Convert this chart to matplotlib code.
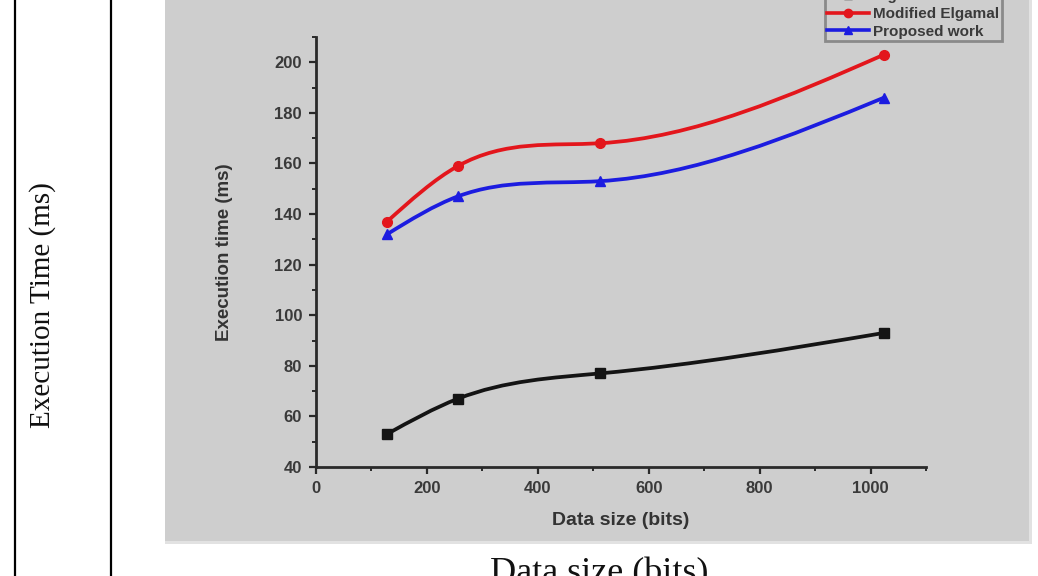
import numpy as np
import matplotlib
matplotlib.use('Agg')
import matplotlib.pyplot as plt
from matplotlib.path import Path
from matplotlib.patches import PathPatch, Rectangle
from matplotlib.lines import Line2D
from matplotlib.ticker import MultipleLocator

# data
data_size = [128, 256, 512, 1024]
elgamal = [53, 67, 77, 93]
modified_elgamal = [137, 159, 168, 203]
proposed_work = [132, 147, 153, 186]

series_names = ['Elgamal', 'Modified Elgamal', 'Proposed work']
series_colors = ['#141414', '#e3161c', '#1c1ce0']
series_markers = ['s', 'o', '^']

x_ticks = [0, 200, 400, 600, 800, 1000]
y_ticks = [40, 60, 80, 100, 120, 140, 160, 180, 200]

W, H = 1038, 576


def spline_path(x, y):
    '''natural cubic spline through the points, as bezier segments'''
    x = np.asarray(x, float)
    y = np.asarray(y, float)
    n = len(x)
    h = np.diff(x)
    d = np.diff(y) / h
    A = np.zeros((n, n))
    r = np.zeros(n)
    A[0, 0] = A[-1, -1] = 1
    for i in range(1, n - 1):
        A[i, i - 1] = h[i - 1]
        A[i, i] = 2 * (h[i - 1] + h[i])
        A[i, i + 1] = h[i]
        r[i] = 6 * (d[i] - d[i - 1])
    M = np.linalg.solve(A, r)
    m = np.empty(n)
    m[:-1] = d - h * (2 * M[:-1] + M[1:]) / 6
    m[-1] = d[-1] + h[-1] * (M[-2] + 2 * M[-1]) / 6
    verts = [(x[0], y[0])]
    codes = [Path.MOVETO]
    for i in range(n - 1):
        verts += [(x[i] + h[i] / 3, y[i] + m[i] * h[i] / 3),
                  (x[i + 1] - h[i] / 3, y[i + 1] - m[i + 1] * h[i] / 3),
                  (x[i + 1], y[i + 1])]
        codes += [Path.CURVE4] * 3
    return Path(verts, codes)


fig = plt.figure(figsize=(W / 100, H / 100), dpi=100)
fig.patch.set_facecolor('white')

# page furniture: table borders and the grey picture
for px in [15, 111]:
    fig.add_artist(Line2D([px / W, px / W], [0, 1], transform=fig.transFigure,
                          color='black', lw=1.6, zorder=0))
fig.add_artist(Rectangle((165 / W, (H - 544) / H), (1032 - 165) / W, 544 / H,
                         transform=fig.transFigure, facecolor='#e2e2e2', edgecolor='none',
                         zorder=0))
fig.add_artist(Rectangle((165 / W, (H - 541) / H), (1029 - 165) / W, 541 / H,
                         transform=fig.transFigure, facecolor='#cecece', edgecolor='none',
                         zorder=0))

fig.text(43 / W, (H - 305) / H, 'Execution Time (ms)', rotation=90, ha='center', va='center',
         fontsize=21, family='Liberation Serif', color='#111111')
fig.text(599 / W, (H - 582) / H, 'Data size (bits)', ha='center', va='baseline',
         fontsize=26, family='Liberation Serif', color='#111111')

# inner chart
ax = fig.add_axes([316 / W, (H - 467) / H, 610 / W, 430 / H])
ax.set_zorder(5)
ax.set_facecolor('none')
ax.set_xlim(0, 1100)
ax.set_ylim(40, 210)

series = [elgamal, modified_elgamal, proposed_work]
handles = []
for vals, name, col, mk in zip(series, series_names, series_colors, series_markers):
    ax.add_patch(PathPatch(spline_path(data_size, vals), facecolor='none', edgecolor=col,
                           lw=2.7, capstyle='round', joinstyle='round'))
    ax.plot(data_size, vals, linestyle='none', color=col, marker=mk, markersize=7,
            label=name)
    handles.append(Line2D([], [], color=col, lw=2.6, marker=mk, markersize=6))

for side in ['top', 'right']:
    ax.spines[side].set_visible(False)
for side in ['left', 'bottom']:
    ax.spines[side].set_linewidth(2)
    ax.spines[side].set_color('#2a2a2a')

ax.set_xticks(x_ticks)
ax.set_yticks(y_ticks)
ax.xaxis.set_minor_locator(MultipleLocator(100))
ax.yaxis.set_minor_locator(MultipleLocator(10))
ax.tick_params(which='major', direction='out', length=5, width=1.6, color='#2a2a2a',
               labelsize=12, labelcolor='#3a3a3a', pad=5)
ax.tick_params(which='minor', direction='out', length=3, width=1.4, color='#2a2a2a')
for lab in ax.get_xticklabels() + ax.get_yticklabels():
    lab.set_family('Liberation Sans')
    lab.set_fontweight('bold')

ax.set_xlabel('Data size (bits)', fontsize=14, family='Liberation Sans', fontweight='bold',
              color='#333333')
ax.xaxis.set_label_coords(0.5, (467 - 512) / 430)
ax.set_ylabel('Execution time (ms)', fontsize=13.5, family='Liberation Sans', fontweight='bold',
              color='#333333')
ax.yaxis.set_label_coords((233 - 316) / 610, 0.5)

leg = fig.legend(handles, series_names, loc='lower left',
                 bbox_to_anchor=(825 / W, (H - 41) / H), borderaxespad=0,
                 prop={'family': 'Liberation Sans', 'size': 11, 'weight': 'bold'},
                 labelspacing=0.25, handlelength=2.7, handletextpad=0.3, borderpad=0.15,
                 fancybox=False, framealpha=1, facecolor='#cecece', edgecolor='#8a8a8a')
leg.set_zorder(6)
leg.get_frame().set_linewidth(2)
for t in leg.get_texts():
    t.set_color('#3a3a3a')

fig.savefig('out.png', dpi=100, facecolor='white')
